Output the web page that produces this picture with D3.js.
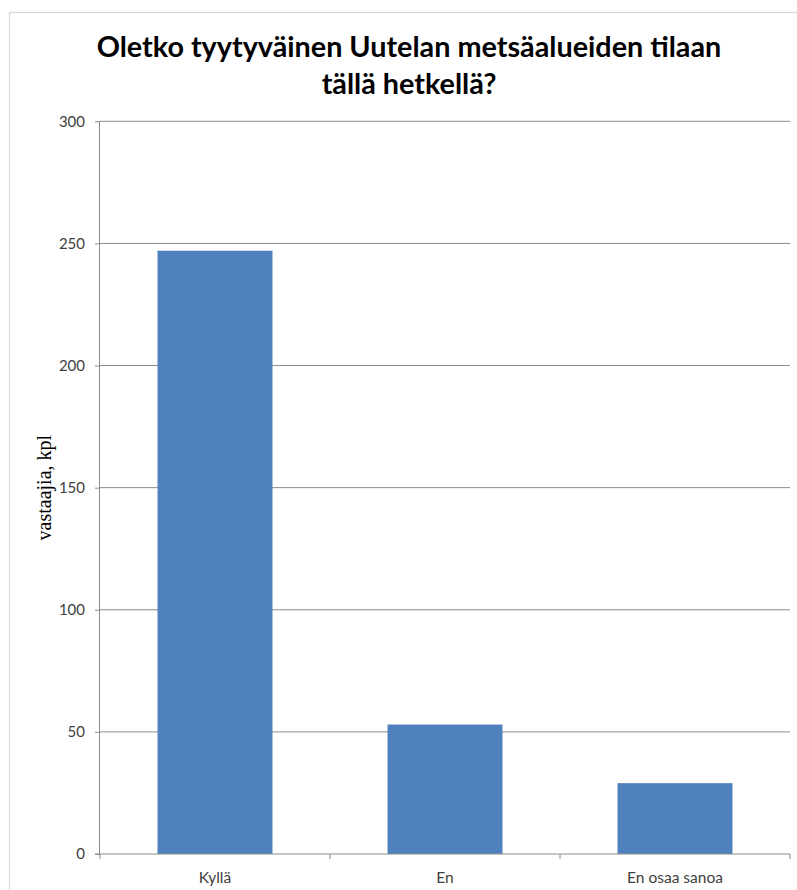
<!DOCTYPE html>
<html><head><meta charset="utf-8">
<script src="https://cdn.jsdelivr.net/npm/d3@7"></script>
<style>body{margin:0;background:#fff}svg{display:block}</style>
</head><body>
<svg id="c" width="797" height="890"></svg>
<script>
const categories = ["Kyllä", "En", "En osaa sanoa"];
const values = [247, 53, 29];
const yTicks = [0, 50, 100, 150, 200, 250, 300];
const titleLines = ["Oletko tyytyväinen Uutelan metsäalueiden tilaan", "tällä hetkellä?"];
const yTitle = "vastaajia, kpl";

const svg = d3.select("#c");
const m = {left: 100, right: 790, top: 121.3, bottom: 854};

svg.append("rect").attr("x", 9.5).attr("y", 12.5).attr("width", 820).attr("height", 920)
  .attr("fill", "#fff").attr("stroke", "#d9d9d9").attr("stroke-width", 1.2);

const x = d3.scaleBand().domain(categories).range([m.left, m.right]).paddingInner(0.5).paddingOuter(0.25);
const y = d3.scaleLinear().domain([0, 300]).range([m.bottom, m.top]);

// gridlines
svg.append("g").selectAll("line").data(yTicks.filter(d => d > 0)).join("line")
  .attr("x1", m.left).attr("x2", m.right)
  .attr("y1", d => y(d)).attr("y2", d => y(d))
  .attr("stroke", "#8c8c8c").attr("stroke-width", 1);

// bars
svg.append("g").selectAll("rect").data(categories).join("rect")
  .attr("x", d => x(d)).attr("width", x.bandwidth())
  .attr("y", (d, i) => y(values[i])).attr("height", (d, i) => y(0) - y(values[i]))
  .attr("fill", "#4f81bd");

// y axis
const yAxis = d3.axisLeft(y).tickValues(yTicks).tickSize(5).tickPadding(10);
const gy = svg.append("g").attr("transform", `translate(${m.left},0)`).call(yAxis);
gy.select(".domain").attr("stroke", "#8c8c8c").attr("d", `M-0.5,${m.top}V${m.bottom}`);
gy.selectAll(".tick line").attr("stroke", "#8c8c8c");
gy.selectAll(".tick text").attr("fill", "#404040").style("font-family", "Lato, 'Open Sans', sans-serif").style("font-size", "15px");

// x axis
const xb = d3.scaleLinear().domain([0, 3]).range([m.left, m.right]);
const gx = svg.append("g");
gx.append("line").attr("x1", m.left - 5).attr("x2", m.right).attr("y1", m.bottom).attr("y2", m.bottom)
  .attr("stroke", "#8c8c8c");
gx.selectAll(".bt").data([0, 1, 2, 3]).join("line").attr("class", "bt")
  .attr("x1", d => xb(d)).attr("x2", d => xb(d)).attr("y1", m.bottom).attr("y2", m.bottom + 5)
  .attr("stroke", "#8c8c8c");
gx.selectAll("text").data(categories).join("text")
  .attr("x", d => x(d) + x.bandwidth() / 2).attr("y", 883)
  .attr("text-anchor", "middle").attr("fill", "#404040")
  .style("font-family", "Lato, 'Open Sans', sans-serif").style("font-size", "15.5px")
  .text(d => d);

// y title
svg.append("text").attr("transform", `translate(51,${(m.top + m.bottom) / 2}) rotate(-90)`)
  .attr("text-anchor", "middle").style("font-family", "'Liberation Serif', 'DejaVu Serif', serif")
  .style("font-size", "20px").attr("fill", "#000").text(yTitle);

// title
const t = svg.append("g");
const tl = t.selectAll("text").data(titleLines).join("text")
  .attr("x", 409).attr("y", (d, i) => 57 + i * 37)
  .attr("text-anchor", "middle").attr("font-weight", "bold")
  .style("font-family", "Lato, 'Open Sans', sans-serif").style("font-size", "28px")
  .attr("fill", "#000").text(d => d);
const w0 = tl.nodes()[0].getComputedTextLength();
const fs = 28 * 625 / w0;
tl.style("font-size", fs + "px");
</script>
</body></html>
